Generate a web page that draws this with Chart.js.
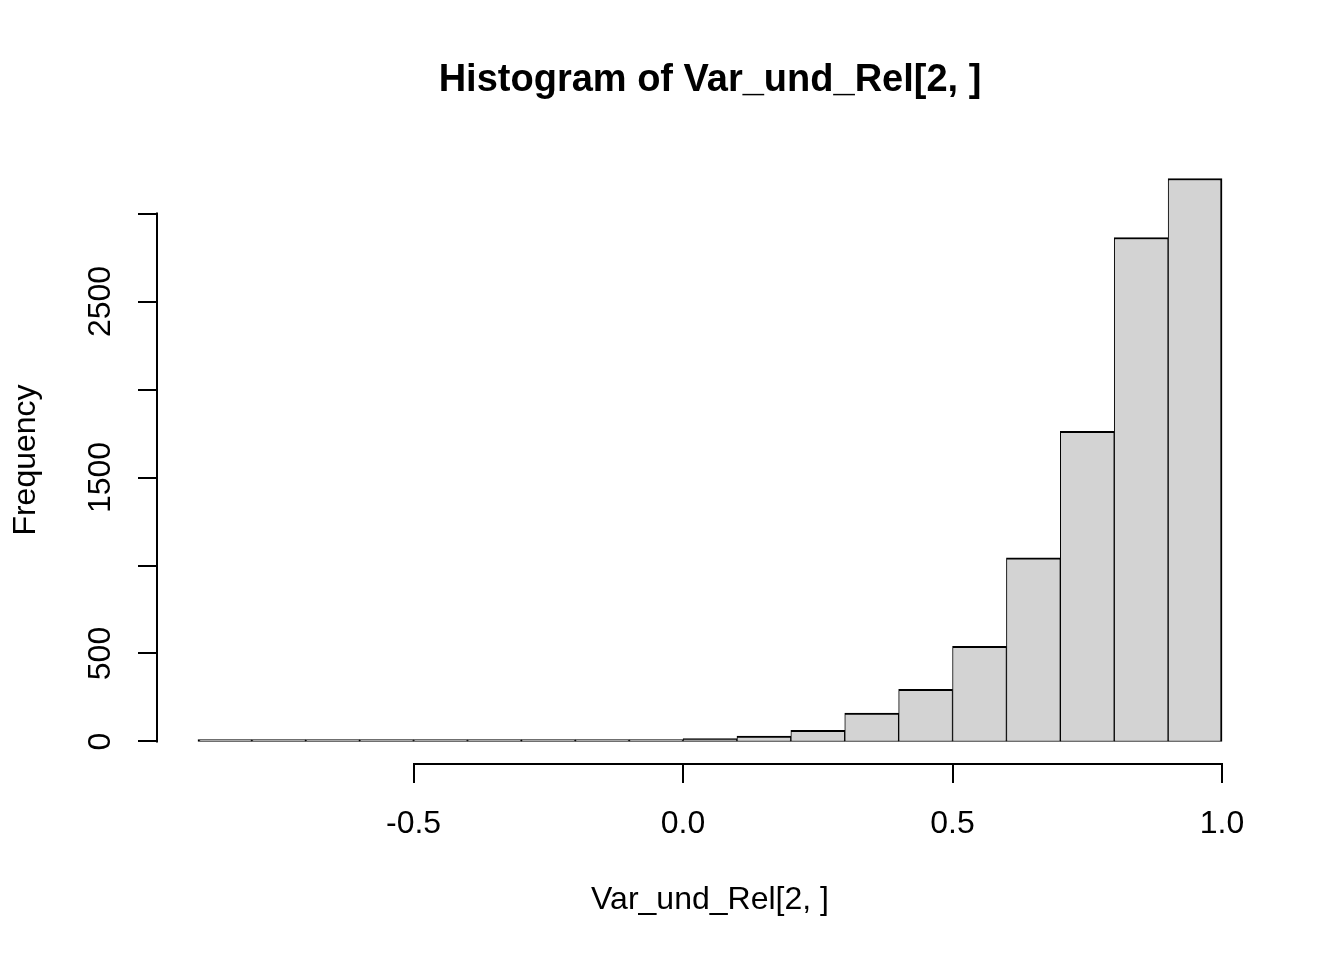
<!DOCTYPE html>
<html>
<head>
<meta charset="utf-8">
<script src="https://cdn.jsdelivr.net/npm/chart.js@4/dist/chart.umd.min.js"></script>
<style>
  html, body { margin: 0; padding: 0; background: #fff; }
  #wrap { width: 1344px; height: 960px; }
</style>
</head>
<body>
<div id="wrap"><canvas id="hist" width="1344" height="960"></canvas></div>
<script>
const TITLE = 'Histogram of Var_und_Rel[2, ]';
const X_LABEL = 'Var_und_Rel[2, ]';
const Y_LABEL = 'Frequency';

// bin left edges, width 0.1
const binStarts = [-0.9, -0.8, -0.7, -0.6, -0.5, -0.4, -0.3, -0.2, -0.1, 0.0,
  0.1, 0.2, 0.3, 0.4, 0.5, 0.6, 0.7, 0.8, 0.9];
const counts = [1, 1, 1, 1, 1, 2, 2, 5, 8, 17,
  30, 63, 161, 296, 541, 1043, 1763, 2864, 3199];
const BIN_WIDTH = 0.1;

const xTicks = [-0.5, 0.0, 0.5, 1.0];
const xTickLabels = ['-0.5', '0.0', '0.5', '1.0'];
const yTicks = [0, 500, 1000, 1500, 2000, 2500, 3000];
const yTickLabels = ['0', '500', '', '1500', '', '2500', ''];

// R style axis range: data range extended by 4%
const xMin = -0.9, xMax = 1.0;
const yMin = 0, yMax = 3199;
const xPad = (xMax - xMin) * 0.04;
const yPad = (yMax - yMin) * 0.04;

const FONT = '"Liberation Sans", Arial, sans-serif';

const rAxes = {
  id: 'rAxes',
  afterDraw(chart) {
    const ctx = chart.ctx;
    const area = chart.chartArea;
    const xs = chart.scales.x;
    const ys = chart.scales.y;
    const tick = 19;

    ctx.save();
    ctx.strokeStyle = '#000';
    ctx.fillStyle = '#000';
    ctx.lineWidth = 2;
    ctx.lineCap = 'butt';

    // x axis
    const yAxis = Math.round(area.bottom);
    ctx.beginPath();
    ctx.moveTo(xs.getPixelForValue(xTicks[0]), yAxis);
    ctx.lineTo(xs.getPixelForValue(xTicks[xTicks.length - 1]), yAxis);
    xTicks.forEach((v) => {
      const px = Math.round(xs.getPixelForValue(v));
      ctx.moveTo(px, yAxis - 1);
      ctx.lineTo(px, yAxis + tick);
    });
    ctx.stroke();

    ctx.font = '32px ' + FONT;
    ctx.textAlign = 'center';
    ctx.textBaseline = 'middle';
    xTicks.forEach((v, i) => {
      ctx.fillText(xTickLabels[i], xs.getPixelForValue(v), 824);
    });

    // y axis
    const xAxis = Math.round(area.left);
    ctx.beginPath();
    ctx.moveTo(xAxis, ys.getPixelForValue(yTicks[0]) + 1);
    ctx.lineTo(xAxis, ys.getPixelForValue(yTicks[yTicks.length - 1]) - 1);
    yTicks.forEach((v) => {
      const py = Math.round(ys.getPixelForValue(v));
      ctx.moveTo(xAxis + 1, py);
      ctx.lineTo(xAxis - tick, py);
    });
    ctx.stroke();

    yTicks.forEach((v, i) => {
      if (!yTickLabels[i]) {
        return;
      }
      ctx.save();
      ctx.translate(101, ys.getPixelForValue(v));
      ctx.rotate(-Math.PI / 2);
      ctx.fillText(yTickLabels[i], 0, 0);
      ctx.restore();
    });

    // axis titles
    const midX = (area.left + area.right) / 2;
    const midY = (area.top + area.bottom) / 2;
    ctx.fillText(X_LABEL, midX, 900);
    ctx.save();
    ctx.translate(26, midY);
    ctx.rotate(-Math.PI / 2);
    ctx.fillText(Y_LABEL, 0, 0);
    ctx.restore();

    // main title
    ctx.font = 'bold 38px ' + FONT;
    ctx.fillText(TITLE, midX, 81);
    ctx.restore();
  },
};

new Chart(document.getElementById('hist').getContext('2d'), {
  type: 'bar',
  data: {
    datasets: [{
      data: binStarts.map((s, i) => ({ x: s + BIN_WIDTH / 2, y: counts[i] })),
      backgroundColor: '#D3D3D3',
      borderColor: '#000',
      borderWidth: (c) => ({
        top: 2,
        bottom: 1,
        left: c.dataIndex === 0 ? 2 : 1,
        right: c.dataIndex === counts.length - 1 ? 2 : 1,
      }),
      borderSkipped: false,
      barPercentage: 1,
      categoryPercentage: 1,
      minBarLength: 2,
    }],
  },
  options: {
    responsive: false,
    animation: false,
    devicePixelRatio: 1,
    layout: { padding: { left: 157, right: 81, top: 156, bottom: 196 } },
    plugins: {
      legend: { display: false },
      tooltip: { enabled: false },
      title: { display: false },
    },
    scales: {
      x: {
        type: 'linear',
        display: false,
        offset: false,
        min: xMin - xPad,
        max: xMax + xPad,
      },
      y: {
        type: 'linear',
        display: false,
        min: yMin - yPad,
        max: yMax + yPad,
      },
    },
  },
  plugins: [rAxes],
});
</script>
</body>
</html>
